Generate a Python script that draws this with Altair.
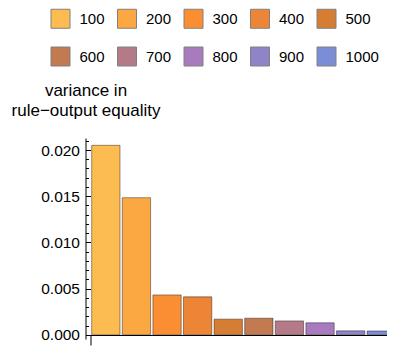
import altair as alt
import pandas as pd

categories = ["100", "200", "300", "400", "500", "600", "700", "800", "900", "1000"]
values = [0.02051, 0.01484, 0.00432, 0.00411, 0.0017, 0.0018, 0.00151, 0.0013, 0.00043, 0.00042]
colors = ["#FCBC52", "#FCA842", "#FB8E33", "#EC8636", "#D57D33",
          "#C27B50", "#B57A88", "#A87ABE", "#8F84C8", "#7B8DD6"]
major_ticks = [0.0, 0.005, 0.010, 0.015, 0.020]
minor_ticks = [i / 1000 for i in range(0, 22)]
y_title = ["variance in", "rule\u2212output equality"]

FONT = "Liberation Sans"
W, H = 301.5, 201

df = pd.DataFrame({
    "cat": categories,
    "v": values,
    "idx": list(range(1, len(categories) + 1)),
})

ydom = [-0.00045, 0.0213]
xdom = [0.335, 10.188]

color = alt.Color(
    "cat:N",
    scale=alt.Scale(domain=categories, range=colors),
    sort=categories,
    legend=alt.Legend(
        title=None, orient="none", legendX=-35, legendY=-129.5,
        direction="horizontal", columns=5, symbolType="square",
        symbolSize=361, symbolStrokeColor="#808080", symbolStrokeWidth=1,
        symbolOpacity=1, labelFont=FONT, labelFontSize=15, labelColor="#000",
        labelOffset=9, columnPadding=9.5, rowPadding=14, padding=0,
    ),
)

bars = alt.Chart(df).transform_calculate(
    x0="datum.idx - 0.4625", x1="datum.idx + 0.4625"
).mark_bar(
    clip=True, stroke="#000", strokeOpacity=0.4, strokeWidth=1
).encode(
    x=alt.X("x0:Q", scale=alt.Scale(domain=xdom, nice=False, zero=False),
            axis=alt.Axis(orient="bottom", offset=-4, values=[0.5], labels=False,
                          tickSize=10, tickColor="#000", domainColor="#000",
                          grid=False, title=None)),
    x2="x1:Q",
    y=alt.Y("v:Q", scale=alt.Scale(domain=ydom, nice=False, zero=True),
            axis=alt.Axis(orient="left", values=major_ticks, format=".3f",
                          ticks=False, tickSize=0, labelPadding=6, labelFont=FONT,
                          labelFontSize=15.5, labelColor="#000", domainColor="#000",
                          grid=False, title=y_title, titleAngle=0, titleX=0,
                          titleY=-42.7, titleAlign="center", titleBaseline="alphabetic",
                          titleFont=FONT, titleFontSize=17, titleFontWeight="normal",
                          titleColor="#000", titleLineHeight=20.4)),
    y2=alt.datum(0),
    color=color,
)

minor = alt.Chart(df).mark_point(opacity=0).encode(
    y=alt.Y("v:Q", scale=alt.Scale(domain=ydom, nice=False, zero=True),
            axis=alt.Axis(orient="right", offset=-W, values=minor_ticks, labels=False,
                          domain=False, tickSize=3, tickColor="#000", grid=False,
                          title=None)),
)

major = alt.Chart(df).mark_point(opacity=0).encode(
    y=alt.Y("v:Q", scale=alt.Scale(domain=ydom, nice=False, zero=True),
            axis=alt.Axis(orient="right", offset=-W, values=major_ticks, labels=False,
                          domain=False, tickSize=5, tickColor="#000", grid=False,
                          title=None)),
)

chart = alt.layer(bars, minor, major).resolve_scale(y="shared").resolve_axis(
    y="independent"
).properties(
    width=W, height=H,
    autosize=alt.AutoSizeParams(type="none"),
    padding={"left": 77.5, "top": 130, "right": 0, "bottom": 8},
    background="white",
).configure_view(stroke=None)

chart.save("out.html", embed_options={"renderer": "svg", "actions": False})
